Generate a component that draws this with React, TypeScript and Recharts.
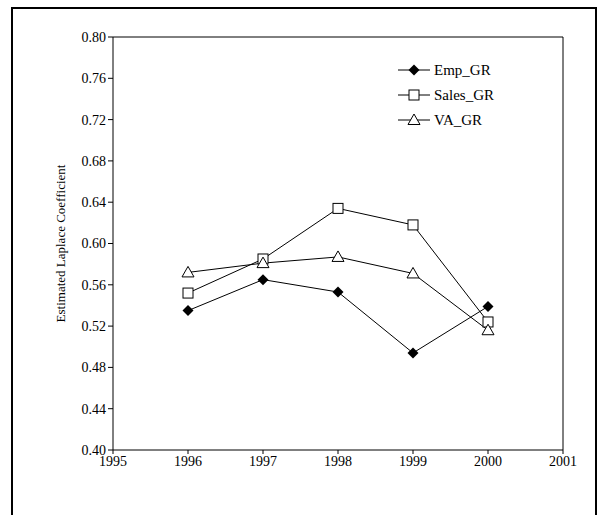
import React from 'react';
import { LineChart, Line, XAxis, YAxis } from 'recharts';

const years = [1996, 1997, 1998, 1999, 2000];
const empGR = [0.535, 0.565, 0.553, 0.494, 0.539];
const salesGR = [0.552, 0.585, 0.634, 0.618, 0.524];
const vaGR = [0.572, 0.581, 0.587, 0.571, 0.516];
const xTicks = [1995, 1996, 1997, 1998, 1999, 2000, 2001];
const yTicks = [0.4, 0.44, 0.48, 0.52, 0.56, 0.6, 0.64, 0.68, 0.72, 0.76, 0.8];

const data = years.map((y, i) => ({ year: y, Emp_GR: empGR[i], Sales_GR: salesGR[i], VA_GR: vaGR[i] }));

const FONT = '"Liberation Serif", "DejaVu Serif", serif';

const Marker = ({ kind, cx, cy }: { kind: string; cx: number; cy: number }) => {
  if (kind === 'diamond')
    return <path d={`M${cx},${cy - 5.5}L${cx + 5.5},${cy}L${cx},${cy + 5.5}L${cx - 5.5},${cy}Z`} fill="#000" />;
  if (kind === 'square')
    return <rect x={cx - 5} y={cy - 5} width={10} height={10} fill="#fff" stroke="#000" strokeWidth={1} />;
  return <path d={`M${cx},${cy - 6}L${cx + 6},${cy + 4.5}L${cx - 6},${cy + 4.5}Z`} fill="#fff" stroke="#000" strokeWidth={1} />;
};

const dot = (kind: string) => (p: any) => <Marker key={`${kind}-${p.index}`} kind={kind} cx={p.cx} cy={p.cy} />;

const series = [
  { key: 'Emp_GR', kind: 'diamond' },
  { key: 'Sales_GR', kind: 'square' },
  { key: 'VA_GR', kind: 'triangle' },
];

const LegendBox = () => (
  <svg width={150} height={80} style={{ position: 'absolute', left: 396, top: 58 }}>
    {series.map((s, i) => (
      <g key={s.key}>
        <line x1={2} x2={34} y1={12 + i * 25} y2={12 + i * 25} stroke="#000" />
        <Marker kind={s.kind} cx={18} cy={12 + i * 25} />
        <text x={38} y={17 + i * 25} fontFamily={FONT} fontSize={15} fill="#000">{s.key}</text>
      </g>
    ))}
  </svg>
);

export default function App() {
  return (
    <div style={{ position: 'absolute', left: 0, top: 0, width: 600, height: 515, background: '#fff', overflow: 'hidden' }}>
      <div style={{ position: 'absolute', left: 11, top: 7, width: 582, height: 520, border: '2px solid #000' }} />
      <LineChart width={600} height={515} data={data} margin={{ top: 37, right: 37, bottom: 35, left: 53 }}>
        <XAxis dataKey="year" type="number" domain={[1995, 2001]} ticks={xTicks} stroke="#000"
          tickSize={4} tick={{ fill: '#000', fontFamily: FONT, fontSize: 14 }} height={30} />
        <YAxis type="number" domain={[0.4, 0.8]} ticks={yTicks} stroke="#000" width={60}
          tickFormatter={(v: number) => v.toFixed(2)} tickSize={5}
          tick={{ fill: '#000', fontFamily: FONT, fontSize: 14 }}
          label={{ value: 'Estimated Laplace Coefficient', angle: -90, position: 'insideLeft', offset: 7,
            style: { textAnchor: 'middle', fontFamily: FONT, fontSize: 13, fill: '#000' } }} />
        <line x1={113} x2={563} y1={37} y2={37} stroke="#000" />
        <line x1={563} x2={563} y1={37} y2={450} stroke="#000" />
        {series.map(s => (
          <Line key={s.key} dataKey={s.key} stroke="#000" strokeWidth={1} dot={dot(s.kind)}
            isAnimationActive={false} />
        ))}
      </LineChart>
      <LegendBox />
    </div>
  );
}
